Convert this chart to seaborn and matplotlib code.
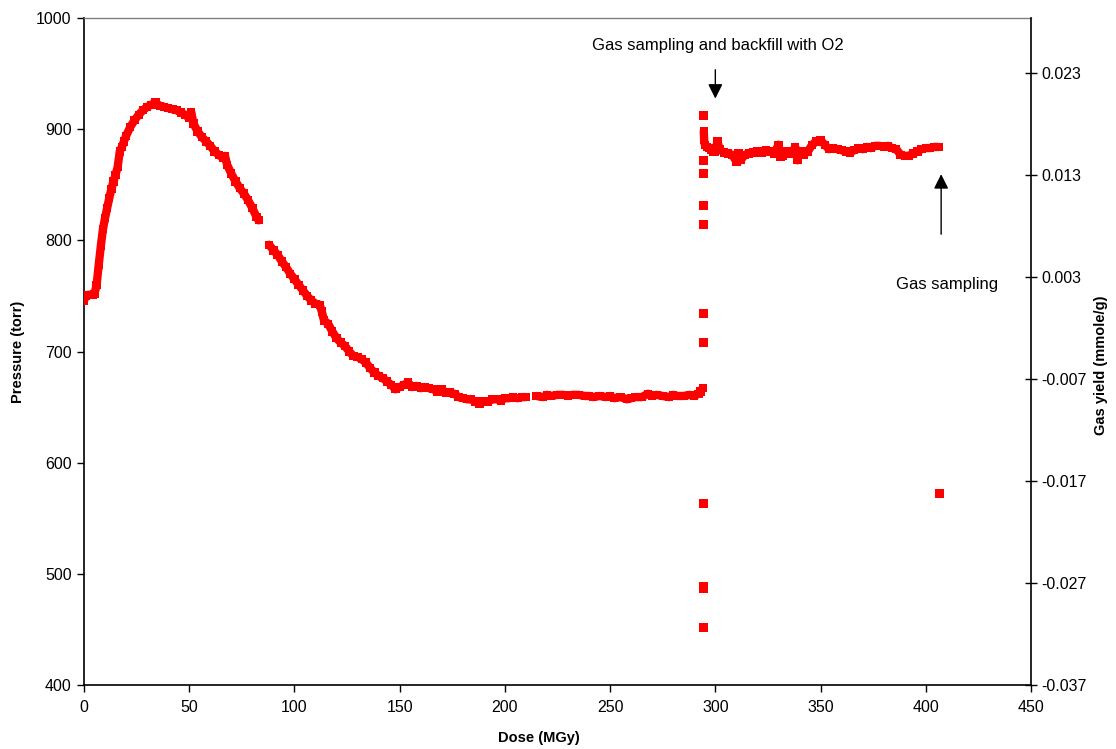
import numpy as np
import pandas as pd
import seaborn as sns
import matplotlib.pyplot as plt
from matplotlib.ticker import FixedLocator, FixedFormatter

# 数据：剂量 (MGy) 与压力 (torr)
dose_a = [0, 1, 2, 3, 4, 5, 6, 7, 8, 9, 10, 11, 12, 13, 14, 15, 16, 17, 18, 19, 20,
          22, 24, 26, 28, 30, 32, 34, 36, 38, 40, 42, 44, 46, 48, 50, 51, 52, 54, 56,
          58, 60, 62, 64, 66, 67, 68, 70, 72, 74, 76, 78, 80, 82, 83]
pres_a = [746, 750, 751, 751, 751, 752, 760, 778, 795, 810, 820, 829, 838, 846, 853, 859, 866, 880, 884, 889, 894,
          902, 908, 913, 917, 920, 922, 924, 921, 920, 919, 918, 917, 915, 913, 910, 915, 905, 898, 893,
          889, 885, 880, 877, 874, 876, 868, 860, 853, 847, 842, 836, 829, 821, 818]

dose_b = [88, 90, 92, 94, 96, 98, 100, 102, 104, 106, 108, 110, 112, 113, 114, 116, 118, 120, 122, 124,
          126, 128, 130, 132, 134, 136, 138, 140, 142, 144, 146, 148, 150, 152, 154, 156, 158, 160, 162, 164,
          166, 168, 170, 172, 174, 176, 178, 180, 182, 184, 186, 188, 190, 192, 194, 196, 198, 200, 202, 204,
          206, 208, 210]
pres_b = [796, 791, 787, 781, 776, 770, 765, 760, 755, 750, 746, 743, 742, 736, 728, 725, 718, 712, 708, 705,
          700, 696, 695, 693, 690, 685, 681, 678, 676, 673, 670, 666, 668, 670, 672, 668, 669, 667, 668, 667,
          666, 664, 666, 663, 663, 662, 659, 658, 657, 657, 655, 653, 655, 655, 657, 657, 656, 658, 658, 659,
          658, 659, 659]

dose_c = [215, 218, 220, 222, 225, 228, 230, 232, 235, 238, 240, 242, 245, 248, 250, 252, 255, 258, 260, 262,
          265, 268, 270, 272, 275, 278, 280, 282, 285, 288, 290, 292, 293, 294]
pres_c = [660, 659, 661, 660, 661, 661, 660, 661, 661, 660, 660, 659, 660, 659, 660, 658, 659, 657, 658, 659,
          659, 662, 660, 661, 660, 659, 661, 660, 660, 661, 660, 662, 664, 667]

dose_d = [294.5, 294.7, 295, 296, 297, 298, 299, 300, 301, 302, 304, 306, 308, 310, 311, 312, 314, 316, 318, 320,
          322, 324, 326, 328, 330, 331, 332, 334, 336, 338, 339, 340, 342, 344, 346, 348, 350, 352, 354, 356,
          358, 360, 362, 364, 366, 368, 370, 372, 374, 376, 378, 380, 382, 384, 386, 388, 390, 392, 394, 396,
          398, 400, 402, 404, 406]
pres_d = [898, 890, 886, 884, 883, 881, 880, 880, 889, 882, 879, 878, 877, 871, 878, 872, 877, 878, 879, 880,
          879, 881, 880, 878, 886, 875, 876, 880, 878, 884, 872, 880, 877, 880, 886, 889, 890, 886, 882, 883,
          882, 881, 880, 879, 881, 883, 882, 884, 883, 885, 885, 884, 885, 883, 882, 877, 876, 876, 878, 880,
          882, 883, 883, 884, 884]

# 孤立点
dose_pts = [294.2] * 11 + [406.6]
pres_pts = [912, 872, 860, 831, 814, 734, 708, 563, 489, 487, 452, 572]

x_ticks = [0, 50, 100, 150, 200, 250, 300, 350, 400, 450]
y_ticks = [400, 500, 600, 700, 800, 900, 1000]
y2_ticks = [-0.037, -0.027, -0.017, -0.007, 0.003, 0.013, 0.023]
y2_labels = ['-0.037', '-0.027', '-0.017', '-0.007', '0.003', '0.013', '0.023']

sns.set_style("white")
plt.rcParams['font.family'] = ['Liberation Sans', 'DejaVu Sans']
plt.rcParams['text.color'] = 'black'
plt.rcParams['axes.labelcolor'] = 'black'
plt.rcParams['xtick.color'] = 'black'
plt.rcParams['ytick.color'] = 'black'

df_line = pd.concat([
    pd.DataFrame({'dose': dose_a, 'pressure': pres_a, 'seg': 'a'}),
    pd.DataFrame({'dose': dose_b, 'pressure': pres_b, 'seg': 'b'}),
    pd.DataFrame({'dose': dose_c, 'pressure': pres_c, 'seg': 'c'}),
    pd.DataFrame({'dose': dose_d, 'pressure': pres_d, 'seg': 'd'}),
], ignore_index=True)
df_pts = pd.DataFrame({'dose': dose_pts, 'pressure': pres_pts})

fig = plt.figure(figsize=(11.16, 7.49), dpi=100)
ax = fig.add_axes([84 / 1116, 1 - 685 / 749, (1031 - 84) / 1116, (685 - 18) / 749])

# 细蓝线 + 粗红线 + 方块标记
sns.lineplot(data=df_line, x='dose', y='pressure', units='seg', estimator=None, sort=False,
             color='#000080', lw=1, ax=ax, zorder=2)
sns.lineplot(data=df_line, x='dose', y='pressure', units='seg', estimator=None, sort=False,
             color='red', lw=6, ax=ax, zorder=3)
sns.scatterplot(data=df_line, x='dose', y='pressure', marker='s', s=36, color='red',
                edgecolor='none', ax=ax, zorder=4)
sns.scatterplot(data=df_pts, x='dose', y='pressure', marker='s', s=40, color='red',
                edgecolor='none', ax=ax, zorder=4)

ax.set_xlim(0, 450)
ax.set_ylim(400, 1000)
ax.set_xticks(x_ticks)
ax.set_yticks(y_ticks)
ax.tick_params(axis='both', direction='out', length=5, width=1, color='black',
               labelsize=11.5, left=True, bottom=True)
ax.tick_params(axis='x', pad=6)
ax.tick_params(axis='y', pad=4)
ax.set_xlabel('Dose (MGy)', fontsize=10.5, fontweight='bold')
ax.set_ylabel('Pressure (torr)', fontsize=10.5, fontweight='bold')
ax.xaxis.set_label_coords(0.48, -0.069)
ax.yaxis.set_label_coords(-0.062, 0.5)

for s in ['left', 'bottom']:
    ax.spines[s].set_color('black')
    ax.spines[s].set_linewidth(1.2)
ax.spines['top'].set_color('#808080')
ax.spines['top'].set_linewidth(1)
ax.spines['right'].set_visible(False)

ax2 = ax.twinx()
ax2.set_ylim(-0.037, -0.037 + 0.01 * (685 - 18) / 102)
ax2.yaxis.set_major_locator(FixedLocator(y2_ticks))
ax2.yaxis.set_major_formatter(FixedFormatter(y2_labels))
ax2.tick_params(axis='y', direction='inout', length=9, width=1, labelsize=11.5, right=True, pad=3)
ax2.set_ylabel('Gas yield (mmole/g)', fontsize=10.5, fontweight='bold')
ax2.yaxis.set_label_coords(1.067, 0.48)
for s in ['left', 'top', 'bottom']:
    ax2.spines[s].set_visible(False)
ax2.spines['right'].set_color('black')
ax2.spines['right'].set_linewidth(1.2)

# 注释
ax.annotate('', xy=(300, 925), xytext=(300, 956),
            arrowprops=dict(arrowstyle='-|>', color='black', lw=1, mutation_scale=22))
ax.text(301, 975, 'Gas sampling and backfill with O2', fontsize=12, ha='center', va='center')
ax.annotate('', xy=(407.3, 862), xytext=(407.3, 803),
            arrowprops=dict(arrowstyle='-|>', color='black', lw=1, mutation_scale=22))
ax.text(410, 760, 'Gas sampling', fontsize=12, ha='center', va='center')

plt.savefig('out.png', dpi=100)
